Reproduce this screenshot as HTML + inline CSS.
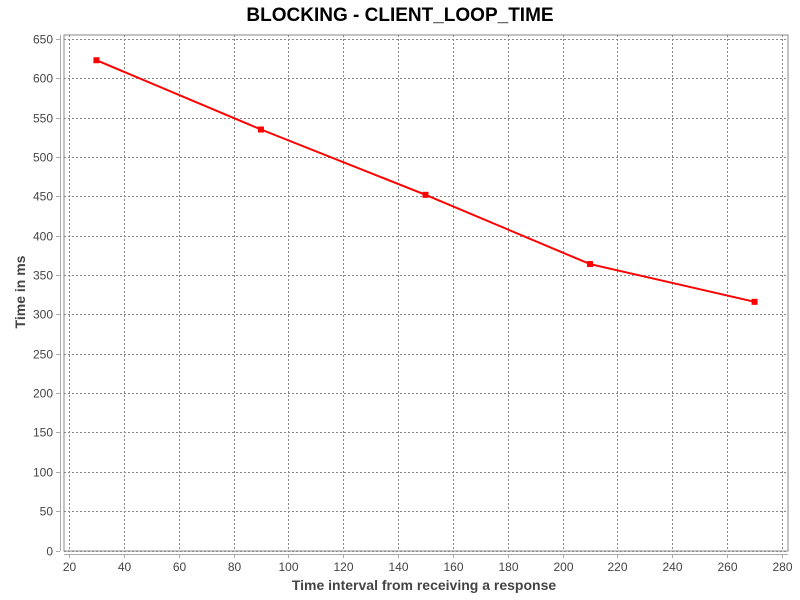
<!DOCTYPE html>
<html><head><meta charset="utf-8"><style>
body{margin:0;background:#fff;}
svg{display:block;font-family:"Liberation Sans","DejaVu Sans",sans-serif;}
</style></head><body>
<svg id="chart" width="800" height="600" xmlns="http://www.w3.org/2000/svg">
<text x="400" y="21" text-anchor="middle" font-size="19" font-weight="bold" fill="#000">BLOCKING - CLIENT_LOOP_TIME</text>
<rect x="64" y="35" width="724" height="516" fill="#fff" stroke="#888" stroke-width="1"/>
<g id="grid"></g>
<line x1="60.5" y1="35" x2="60.5" y2="551" stroke="#aaa"/>
<line x1="64" y1="554.5" x2="788" y2="554.5" stroke="#aaa"/>
<g id="ticks"></g>
<g id="series"></g>
<text x="424" y="590" text-anchor="middle" font-size="14" font-weight="bold" fill="#444">Time interval from receiving a response</text>
<text transform="translate(25,292) rotate(-90)" text-anchor="middle" font-size="14" font-weight="bold" fill="#444">Time in ms</text>
</svg>
<script>
const xValues = [30, 90, 150, 210, 270];
const yValues = [623, 535, 452, 364, 316];
const xTicks = [20,40,60,80,100,120,140,160,180,200,220,240,260,280];
const yTicks = [0,50,100,150,200,250,300,350,400,450,500,550,600,650];

const NS = "http://www.w3.org/2000/svg";
function xs(v){ return 69 + (v-20)*(782-69)/260; }
function ys(v){ return 550.5 - v*(550.5-39)/650; }
function mk(tag, attrs, parent){
  const e = document.createElementNS(NS, tag);
  for (const k in attrs) e.setAttribute(k, attrs[k]);
  parent.appendChild(e); return e;
}
const grid = document.getElementById('grid');
const ticks = document.getElementById('ticks');
const series = document.getElementById('series');

xTicks.forEach(t => {
  const x = Math.round(xs(t)) + 0.5;
  const g = mk('line', {x1:x, y1:35, x2:x, y2:551, stroke:'#888', 'stroke-dasharray':'2,2'}, grid);
  
  
  const tk = mk('line', {x1:x, y1:554, x2:x, y2:558, stroke:'#aaa'}, ticks);
  
  
  const lb = mk('text', {x:x, y:571, 'text-anchor':'middle', 'font-size':'12', fill:'#444'}, ticks);
  lb.textContent = t;
  
  
});
yTicks.forEach(t => {
  const y = Math.round(ys(t)) + 0.5;
  const g = mk('line', {x1:64, y1:y, x2:788, y2:y, stroke:'#888', 'stroke-dasharray':'2,2'}, grid);
  
  
  const tk = mk('line', {x1:56, y1:y, x2:60, y2:y, stroke:'#aaa'}, ticks);
  
  
  const lb = mk('text', {x:53, y:y+4, 'text-anchor':'end', 'font-size':'12', fill:'#444'}, ticks);
  lb.textContent = t;
  
  
});
const pts = xValues.map((v,i) => xs(v).toFixed(1) + ',' + ys(yValues[i]).toFixed(1)).join(' ');
const line = mk('polyline', {points:pts, fill:'none', stroke:'#f00', 'stroke-width':'2'}, series);


xValues.forEach((v,i) => {
  const r = mk('rect', {x:xs(v)-3, y:ys(yValues[i])-3, width:6, height:6, fill:'#f00'}, series);
  
  
});
</script>
</body></html>
